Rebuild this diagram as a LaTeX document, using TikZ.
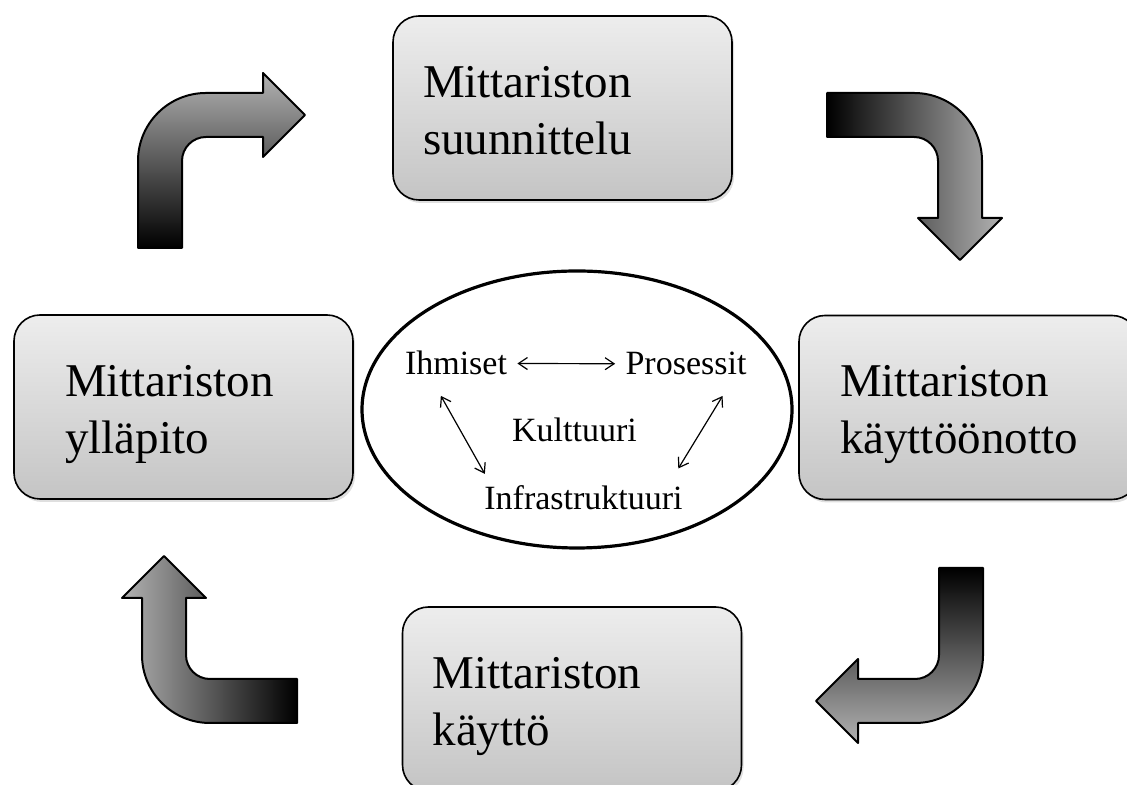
\documentclass[tikz,border=0pt]{standalone}
\usepackage{fontspec}
\setmainfont{Liberation Serif}
\usepackage{tikz}
\usetikzlibrary{shapes,arrows.meta,shadows}

\begin{document}
\begin{tikzpicture}[x=50pt, y=50pt]
\tikzstyle{stage}=[draw, rounded corners=13pt, line width=0.8pt,
                   top color=black!7, bottom color=black!23,
                   drop shadow={opacity=0.25, shadow xshift=1pt, shadow yshift=-1.5pt},
                   minimum width=169.5pt, minimum height=92pt, align=left,
                   text height=16pt, text depth=26.5pt, font=\fontsize{23.5}{28.5}\selectfont]
\tikzstyle{factor}=[inner sep=5pt, font=\fontsize{17}{20}\selectfont]
\tikzstyle{link}=[<->, >={Straight Barb[length=4.5pt,width=6pt]}, line width=0.6pt]
\tikzstyle{bent}=[draw, line width=1pt, line join=round, bottom color=black, top color=black!30]
\clip (0,0) rectangle (11.27,7.85);
%\draw (0,0) grid (11,7);
\node[stage, text width=139.5pt] (suun) at (5.625, 6.77) {Mittariston\\suunnittelu};
\node[stage, text width=128.5pt] (kayo) at (9.685, 3.775) {Mittariston\\käyttöönotto};
\node[stage, text width=139.5pt] (kayt) at (5.72, 0.86) {Mittariston\\käyttö};
\node[stage, text width=118.5pt] (ylla) at (1.835, 3.78) {Mittariston\\ylläpito};
\node[ellipse, draw, line width=1.6pt, minimum width=215pt, minimum height=138.5pt, inner sep=0pt] (ring) at (5.77, 3.755) {};
\node[factor, anchor=base] (ihm) at (4.56, 4.10) {Ihmiset};
\node[factor, anchor=base] (pro) at (6.86, 4.10) {Prosessit};
\node[factor, anchor=base] (kult) at (5.745, 3.43) {Kulttuuri};
\node[factor, anchor=base] (inf) at (5.835, 2.75) {Infrastruktuuri};
\draw[link] (ihm) -- (pro);
\draw[link, shorten <=5.8pt, shorten >=1pt] (ihm.227) -- (inf.167);
\draw[link, shorten <=6pt, shorten >=4.2pt] (pro.333) -- (inf.14);
% bent arrows between the stages
\foreach \x/\y/\r in {1.38/6.92/0, 9.82/6.92/-90, 9.83/0.62/180, 1.42/0.62/90}{
  \begin{scope}[transform canvas={shift={(\x,\y)}, rotate=\r}]
  \begin{scope}[x=0.5pt, y=0.5pt]
  \path[bent] (0,-155) -- (0,-68) arc[start angle=180, end angle=90, radius=68]
     -- (125,0) -- (125,20) -- (167,-22) -- (125,-64) -- (125,-44) -- (68,-44)
     arc[start angle=90, end angle=180, radius=24] -- (44,-155) -- cycle;
  \end{scope}
  \end{scope}}
\end{tikzpicture}
\end{document}
